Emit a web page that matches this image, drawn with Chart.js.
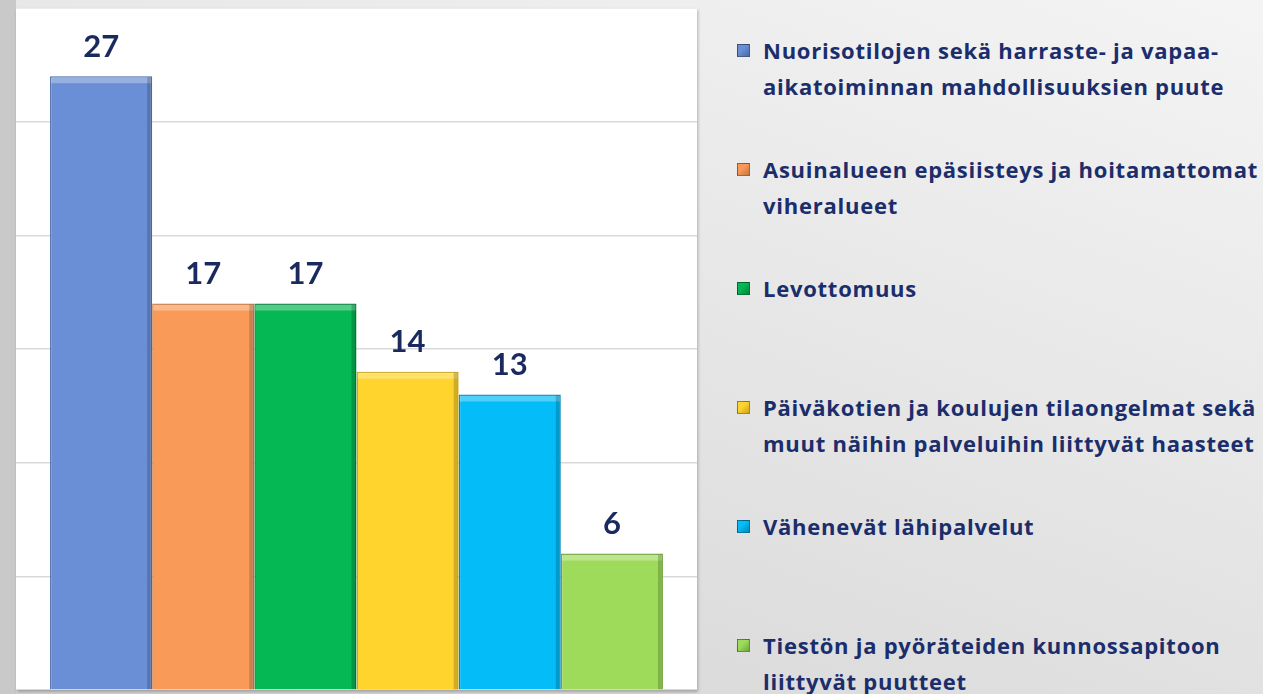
<!DOCTYPE html>
<html>
<head>
<meta charset="utf-8">
<script src="https://cdn.jsdelivr.net/npm/chart.js@4"></script>
<style>
  html, body { margin: 0; padding: 0; }
  body {
    width: 1263px; height: 694px; overflow: hidden; position: relative;
    background: linear-gradient(200deg, #f4f4f4 0%, #e6e6e6 45%, #d4d4d4 100%);
    font-family: "Open Sans", Lato, sans-serif;
  }
  #edge { position: absolute; left: 0; top: 0; width: 16px; height: 694px; background: #c9c9c9; }
  #plot {
    position: absolute; left: 16px; top: 8px; width: 681px; height: 682px;
    background: #fff; box-shadow: 1px 2px 3px rgba(0,0,0,0.25);
  }
  #legend { position: absolute; left: 737px; top: 32px; }
  .item { height: 119px; display: flex; align-items: flex-start; }
  .box {
    width: 13px; height: 13px; margin-top: 12px; margin-right: 13px; flex: none;
    border: 1px solid rgba(0,0,0,0.35); box-sizing: border-box;
  }
  .txt {
    color: #1b2d6b; font-weight: bold; font-size: 22px; line-height: 36px; white-space: nowrap;
    letter-spacing: 0.75px;
  }
</style>
</head>
<body>
<div id="edge"></div>
<div id="plot"><canvas id="problemChart"></canvas></div>
<div id="legend"></div>
<script>
var categories = ['Ongelmat'];
var seriesNames = [
  ['Nuorisotilojen sekä harraste- ja vapaa-', 'aikatoiminnan mahdollisuuksien puute'],
  ['Asuinalueen epäsiisteys ja hoitamattomat', 'viheralueet'],
  ['Levottomuus'],
  ['Päiväkotien ja koulujen tilaongelmat sekä', 'muut näihin palveluihin liittyvät haasteet'],
  ['Vähenevät lähipalvelut'],
  ['Tiestön ja pyöräteiden kunnossapitoon', 'liittyvät puutteet']
];
var values = [27, 17, 17, 14, 13, 6];
var barColors = ['#6a8fd6', '#f99a58', '#05b853', '#ffd42c', '#04bcf7', '#9edb5a'];
var borderColors = ['#4a6aa8', '#c7753d', '#03823a', '#caa61c', '#0388b5', '#6fa53c'];
var yTicks = [0, 5, 10, 15, 20, 25, 30];

// values above the bars + a light bevel on each bar
var valueLabels = {
  id: 'valueLabels',
  afterDatasetsDraw: function (chart) {
    var ctx = chart.ctx;
    ctx.save();
    chart.data.datasets.forEach(function (ds, i) {
      var bar = chart.getDatasetMeta(i).data[0];
      var left = bar.x - bar.width / 2, right = bar.x + bar.width / 2;
      // bevel: lighter top strip, darker right strip
      ctx.fillStyle = 'rgba(255,255,255,0.3)';
      ctx.fillRect(left + 1, bar.y + 1, bar.width - 2, 6);
      ctx.fillStyle = 'rgba(0,0,0,0.18)';
      ctx.fillRect(right - 5, bar.y + 1, 4, bar.base - bar.y - 1);
    });
    ctx.font = 'bold 31px Lato, "Open Sans", sans-serif';
    ctx.fillStyle = '#1b2a5e';
    ctx.textAlign = 'center';
    ctx.textBaseline = 'bottom';
    chart.data.datasets.forEach(function (ds, i) {
      var bar = chart.getDatasetMeta(i).data[0];
      ctx.fillText(ds.data[0], bar.x, bar.y - 14);
    });
    ctx.restore();
  }
};

var ctx = document.getElementById('problemChart').getContext('2d');
var chart = new Chart(ctx, {
  type: 'bar',
  data: {
    labels: categories,
    datasets: values.map(function (v, i) {
      return {
        label: seriesNames[i].join(' '),
        data: [v],
        backgroundColor: barColors[i],
        borderColor: borderColors[i],
        borderWidth: 1.5
      };
    })
  },
  options: {
    responsive: true,
    maintainAspectRatio: false,
    animation: false,
    layout: { padding: 0 },
    datasets: { bar: { categoryPercentage: 0.9, barPercentage: 1 } },
    plugins: { legend: { display: false }, tooltip: { enabled: false } },
    scales: {
      x: { display: false },
      y: {
        min: yTicks[0],
        max: yTicks[yTicks.length - 1],
        afterBuildTicks: function (scale) {
          scale.ticks = yTicks.map(function (t) { return { value: t }; });
        },
        afterFit: function (scale) { scale.width = 0; },
        ticks: { display: false },
        border: { display: false },
        grid: { color: '#d9d9d9', lineWidth: 1.5, drawTicks: false }
      }
    }
  },
  plugins: [valueLabels]
});

// legend built from the series names
var legend = document.getElementById('legend');
seriesNames.forEach(function (lines, i) {
  var item = document.createElement('div');
  item.className = 'item';
  var box = document.createElement('div');
  box.className = 'box';
  box.style.background = 'linear-gradient(135deg, ' + barColors[i] + ' 40%, ' + borderColors[i] + ')';
  var txt = document.createElement('div');
  txt.className = 'txt';
  txt.innerHTML = lines.join('<br>');
  item.appendChild(box);
  item.appendChild(txt);
  legend.appendChild(item);
});
</script>
</body>
</html>
